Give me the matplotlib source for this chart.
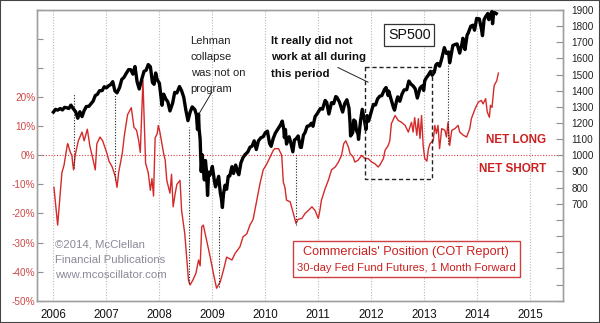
import matplotlib
matplotlib.use("Agg")
import matplotlib.pyplot as plt
from matplotlib.patches import Rectangle

plt.rcParams['font.family'] = ['Liberation Sans', 'DejaVu Sans']

# ---------------- data ----------------
years = [2006, 2007, 2008, 2009, 2010, 2011, 2012, 2013, 2014, 2015]
year_labels = ['2006', '2007', '2008', '2009', '2010', '2011', '2012', '2013', '2014', '2015']

pct_ticks = [-50, -40, -30, -20, -10, 0, 10, 20, 30, 40, 50]
pct_labels = ['-50%', '-40%', '-30%', '-20%', '-10%', '0%', '10%', '20%', '', '', '']

sp_ticks = list(range(100, 2000, 100))
sp_labels = ['', '', '', '', '', '', '700', '800', '900', '1000', '1100', '1200',
             '1300', '1400', '1500', '1600', '1700', '1800', '1900']

# S&P 500 (right axis)
sp_dates = [
    2006.00, 2006.04, 2006.08, 2006.13, 2006.17, 2006.21, 2006.25, 2006.29, 2006.33, 2006.37,
    2006.42, 2006.46, 2006.50, 2006.54, 2006.58, 2006.62, 2006.67, 2006.71, 2006.75, 2006.79,
    2006.83, 2006.87, 2006.92, 2006.96,
    2007.00, 2007.04, 2007.08, 2007.12, 2007.16, 2007.20, 2007.25, 2007.29, 2007.33, 2007.37,
    2007.42, 2007.46, 2007.50, 2007.54, 2007.58, 2007.62, 2007.67, 2007.71, 2007.75, 2007.79,
    2007.83, 2007.87, 2007.90, 2007.93, 2007.96,
    2008.00, 2008.05, 2008.08, 2008.12, 2008.16, 2008.20, 2008.25, 2008.29, 2008.33, 2008.38,
    2008.42, 2008.46, 2008.50, 2008.54, 2008.58, 2008.62, 2008.67, 2008.70, 2008.72, 2008.74,
    2008.75, 2008.77, 2008.79, 2008.81, 2008.83, 2008.85, 2008.87, 2008.89, 2008.91, 2008.93,
    2008.95, 2008.97,
    2009.00, 2009.04, 2009.06, 2009.08, 2009.12, 2009.15, 2009.17, 2009.19, 2009.21, 2009.24,
    2009.27, 2009.30, 2009.33, 2009.37, 2009.40, 2009.44, 2009.48, 2009.50, 2009.54, 2009.58,
    2009.62, 2009.67, 2009.71, 2009.75, 2009.79, 2009.83, 2009.87, 2009.92, 2009.96,
    2010.00, 2010.04, 2010.08, 2010.11, 2010.15, 2010.19, 2010.25, 2010.29, 2010.32, 2010.35,
    2010.36, 2010.38, 2010.40, 2010.42, 2010.45, 2010.48, 2010.52, 2010.55, 2010.58, 2010.62,
    2010.66, 2010.68, 2010.72, 2010.75, 2010.79, 2010.83, 2010.87, 2010.90, 2010.94, 2010.98,
    2011.04, 2011.08, 2011.13, 2011.16, 2011.20, 2011.25, 2011.29, 2011.33, 2011.35, 2011.40,
    2011.46, 2011.50, 2011.54, 2011.58, 2011.60, 2011.61, 2011.65, 2011.67, 2011.70, 2011.72,
    2011.75, 2011.76, 2011.80, 2011.83, 2011.87, 2011.90, 2011.92, 2011.95, 2011.99,
    2012.04, 2012.08, 2012.12, 2012.16, 2012.20, 2012.25, 2012.28, 2012.32, 2012.33, 2012.38,
    2012.42, 2012.44, 2012.48, 2012.50, 2012.54, 2012.58, 2012.62, 2012.67, 2012.71, 2012.75,
    2012.79, 2012.83, 2012.87, 2012.92, 2012.96, 2012.99,
    2013.01, 2013.04, 2013.08, 2013.12, 2013.15, 2013.19, 2013.22, 2013.25, 2013.29, 2013.33,
    2013.38, 2013.42, 2013.46, 2013.48, 2013.50, 2013.54, 2013.58, 2013.62, 2013.65, 2013.67,
    2013.71, 2013.73, 2013.75, 2013.77, 2013.81, 2013.83, 2013.88, 2013.92, 2013.95, 2013.99,
    2014.04, 2014.08, 2014.10, 2014.13, 2014.16, 2014.20, 2014.22, 2014.25, 2014.28, 2014.29,
    2014.31, 2014.33, 2014.36]
sp_values = [
    1268, 1285, 1280, 1290, 1281, 1297, 1295, 1290, 1311, 1291,
    1270, 1230, 1270, 1240, 1277, 1302, 1304, 1320, 1336, 1370,
    1378, 1400, 1401, 1425,
    1418, 1430, 1438, 1456, 1400, 1387, 1421, 1470, 1482, 1505,
    1531, 1530, 1503, 1550, 1455, 1411, 1474, 1520, 1527, 1562,
    1549, 1451, 1440, 1510, 1468,
    1447, 1310, 1379, 1350, 1331, 1275, 1323, 1390, 1386, 1426,
    1400, 1360, 1280, 1215, 1267, 1300, 1283, 1250, 1160, 1255,
    1165, 1100, 900, 1003, 910, 848, 968, 900, 752, 896,
    876, 890,
    931, 840, 805, 826, 870, 770, 735, 677, 760, 815,
    790, 870, 873, 930, 888, 940, 895, 880, 954, 987,
    1005, 1021, 1050, 1057, 1090, 1036, 1090, 1110, 1115,
    1140, 1150, 1074, 1056, 1105, 1138, 1169, 1190, 1212, 1160,
    1110, 1160, 1070, 1089, 1115, 1080, 1022, 1095, 1102, 1120,
    1050, 1049, 1125, 1141, 1180, 1183, 1199, 1180, 1240, 1258,
    1290, 1286, 1340, 1327, 1256, 1326, 1320, 1364, 1360, 1330,
    1268, 1321, 1344, 1292, 1200, 1120, 1140, 1219, 1210, 1155,
    1131, 1099, 1220, 1285, 1220, 1160, 1246, 1212, 1258,
    1315, 1312, 1350, 1366, 1370, 1408, 1420, 1370, 1398, 1340,
    1295, 1280, 1340, 1362, 1335, 1379, 1405, 1407, 1460, 1441,
    1430, 1412, 1355, 1416, 1430, 1402,
    1462, 1480, 1498, 1520, 1496, 1515, 1560, 1569, 1552, 1598,
    1667, 1631, 1640, 1573, 1606, 1680, 1686, 1690, 1655, 1633,
    1687, 1725, 1682, 1655, 1745, 1757, 1800, 1806, 1775, 1848,
    1845, 1783, 1741, 1840, 1859, 1878, 1840, 1872, 1890, 1815,
    1880, 1884, 1878]

# Commercials' net position, % (left axis)
cot_dates = [
    2006.01, 2006.08, 2006.12, 2006.16, 2006.20, 2006.26, 2006.27, 2006.32, 2006.35, 2006.36,
    2006.38, 2006.41, 2006.47, 2006.54, 2006.58, 2006.64, 2006.69, 2006.73, 2006.79, 2006.82,
    2006.88, 2006.93, 2007.01, 2007.05, 2007.11, 2007.17, 2007.20, 2007.22, 2007.23, 2007.30,
    2007.34, 2007.40, 2007.47, 2007.52, 2007.57, 2007.61, 2007.64, 2007.69, 2007.74, 2007.79,
    2007.83, 2007.86, 2007.89, 2007.92, 2007.96, 2007.98, 2008.01, 2008.08, 2008.11, 2008.14,
    2008.20, 2008.23, 2008.26, 2008.30, 2008.33, 2008.39, 2008.42, 2008.48, 2008.52, 2008.55,
    2008.58, 2008.63, 2008.69, 2008.74, 2008.77, 2008.80, 2008.83, 2008.89, 2008.96, 2009.02,
    2009.08, 2009.15, 2009.21, 2009.27, 2009.37, 2009.43, 2009.52, 2009.58, 2009.65, 2009.71,
    2009.77, 2009.84, 2009.90, 2009.96, 2010.03, 2010.09, 2010.15, 2010.18, 2010.25, 2010.31,
    2010.34, 2010.37, 2010.40, 2010.47, 2010.53, 2010.58, 2010.62, 2010.69, 2010.75, 2010.81,
    2010.88, 2010.94, 2011.00, 2011.03, 2011.06, 2011.13, 2011.19, 2011.25, 2011.32, 2011.38,
    2011.44, 2011.48, 2011.52, 2011.57, 2011.60, 2011.66, 2011.69, 2011.75, 2011.82, 2011.88,
    2011.94, 2012.01, 2012.07, 2012.13, 2012.16, 2012.23, 2012.26, 2012.32, 2012.35, 2012.38,
    2012.45, 2012.51, 2012.57, 2012.64, 2012.70, 2012.76, 2012.79, 2012.82, 2012.86, 2012.89,
    2012.92, 2012.95, 2012.98, 2013.01, 2013.05, 2013.08, 2013.11, 2013.14, 2013.17, 2013.20,
    2013.23, 2013.26, 2013.29, 2013.33, 2013.39, 2013.42, 2013.45, 2013.48, 2013.52, 2013.58,
    2013.64, 2013.67, 2013.74, 2013.80, 2013.86, 2013.89, 2013.96, 2014.02, 2014.08, 2014.11,
    2014.16, 2014.19, 2014.23, 2014.25, 2014.28, 2014.32, 2014.37, 2014.40]
cot_values = [
    -11, -24, -15, -6, -3.4, 3.4, 4, 1, 0, -2.3,
    -5, 0, 5, 8, 5, 9, 3, 0, -5, 4,
    6.3, 5, 0.7, -2, -4, -7.4, -11, -8, -6, 0.7,
    7, 14, 16.4, 9.7, 8.6, 5, 1, 25.7, -2.7, -6,
    -12, -8, -14, 6, 7.5, 10.3, 8, 0.7, -1.7, -8.6,
    -13, -6.5, -17.7, -13, -10, -8.6, -19, -27, -36, -43,
    -44.6, -43, -40.6, -36, -38, -24.6, -24, -29, -35, -40.6,
    -45.7, -43.5, -39.5, -35, -36, -33.7, -31.5, -28, -27, -24,
    -22, -15.4, -9.7, -5, -2.9, -0.6, 1.7, 2.3, 2.3, 0,
    -9.2, -11, -15.4, -16, -20, -23.4, -22, -21.7, -20, -19,
    -17.7, -19, -21.7, -19, -15.4, -11.4, -8.6, -5, -4, -2.3,
    0, 4, 5, 2.8, 0.6, -0.6, -2.3, -1.7, 0, -1.1,
    -1.1, -2.3, -2.9, -4, -3.4, -1.1, 1.7, 3.4, 5, 10.9,
    13.7, 12, 11.4, 10.3, 8, 11.4, 8, 13, 6.9, 12.6,
    5.8, 13.7, 3.4, -1.1, -2, 2.3, 4, 4.6, 5, 10.3,
    7.5, 10.3, 2.3, 9.2, 8.6, 6.3, 11.4, 3.4, 8.6, 9.2,
    10.3, 8, 6.9, 6.3, 9.2, 12.6, 16, 18.3, 18.9, 17.7,
    19.5, 14.9, 13.1, 17.2, 16.5, 24, 25.7, 28.3]

# dotted signal lines: (date, S&P-scale top, S&P-scale bottom)
signal_dates = [2006.38, 2007.17, 2008.56, 2009.12, 2010.58, 2013.45]
signal_top = [1389, 1371, 1175, 629, 1012, 1567]
signal_bottom = [920, 846, 208, 186, 567, 1072]

# dashed highlight box
box_x = [2011.88, 2013.15]
box_y = [852, 1546]

# ---------------- figure ----------------
fig = plt.figure(figsize=(6.0, 3.23), dpi=100)
fig.patch.set_facecolor('white')
ax = fig.add_axes([37 / 600, 1 - 300.7 / 323, (563 - 37) / 600, (300.7 - 10) / 323])
ax2 = ax.twinx()
ax2.patch.set_visible(False)

xmin, xmax = 2005.69, 2015.62
ax.set_xlim(xmin, xmax)
ax2.set_xlim(xmin, xmax)
ax.set_ylim(-50, 50)
ax2.set_ylim(100, 1900)

red = '#d42a2a'
grid_c = '#b8b8b8'

for y in years:
    ax.axvline(y, color=grid_c, lw=0.8, ls=(0, (1, 1.5)), zorder=0)
ax.axhline(0, color='#d84040', lw=0.8, ls=(0, (1, 1.5)), zorder=1)

ax.plot(cot_dates, cot_values, color=red, lw=1.0, zorder=3)
ax2.plot(sp_dates, sp_values, color='black', lw=2.4, zorder=4)

ax2.vlines(signal_dates, signal_bottom, signal_top, colors='#222222', lw=0.8,
           linestyles=[(0, (1, 1.5))], zorder=2)

ax2.plot([box_x[0], box_x[1], box_x[1], box_x[0], box_x[0]],
         [box_y[1], box_y[1], box_y[0], box_y[0], box_y[1]],
         color='#222222', lw=1.0, ls=(0, (3, 2)), zorder=5)

# ticks
ax.set_xticks(years)
ax.set_xticklabels(year_labels, fontsize=8.3, color='#111111')
ax.tick_params(axis='x', length=0, pad=6)
ax.set_yticks(pct_ticks)
ax.set_yticklabels(pct_labels, fontsize=7.2, color='#d04848')
ax.tick_params(axis='y', direction='in', length=4.5, width=0.8, color='#909090', pad=1)
ax2.set_yticks(sp_ticks)
ax2.set_yticklabels(sp_labels, fontsize=7.2, color='#222222')
ax2.tick_params(axis='y', direction='in', length=4.8, width=0.8, color='#909090', pad=6)

for a in (ax, ax2):
    for s in a.spines.values():
        s.set_color('#a0a0a0')
        s.set_linewidth(1.0)

# annotations
ax2.text(2008.59, 1742, "Lehman\ncollapse\nwas not on\nprogram", fontsize=8.1,
         color='#222222', ha='left', va='top', linespacing=1.75, zorder=6)
ax2.plot([2008.99, 2008.75], [1391, 1258], color='#222222', lw=0.7, zorder=6)

ax2.text(2010.11, 1740, "It really did not\nwork at all during\nthis period", fontsize=8.2,
         fontweight='bold', color='#111111', ha='left', va='top', linespacing=1.8, zorder=6)
ax2.plot([2011.37, 2011.94], [1544, 1453], color='#222222', lw=0.7, zorder=6)

ax2.text(2012.72, 1745, "SP500", fontsize=10.3, color='#111111', ha='center', va='center',
         zorder=6, bbox=dict(boxstyle='square,pad=0.25', fc='white', ec='#333333', lw=0.9))

ax2.text(2015.30, 1093, "NET LONG", fontsize=8.4, fontweight='bold', color='#cc2020',
         ha='right', va='center', zorder=6)
ax2.text(2015.30, 913, "NET SHORT", fontsize=8.4, fontweight='bold', color='#cc2020',
         ha='right', va='center', zorder=6)

ax2.add_patch(Rectangle((2010.53, 248), 4.28, 221, fill=True, fc='white', ec='#d04040',
                        lw=1.0, zorder=6))
ax2.text(2012.66, 402, "Commercials' Position (COT Report)", fontsize=9.2, color='#cc2020',
         ha='center', va='center', zorder=7)
ax2.text(2012.66, 300, "30-day Fed Fund Futures, 1 Month Forward", fontsize=8.1,
         color='#cc2020', ha='center', va='center', zorder=7)

ax2.text(2006.03, 478, "©2014, McClellan\nFinancial Publications\nwww.mcoscillator.com",
         fontsize=8.2, color='#8a8a98', ha='left', va='top', linespacing=1.62, zorder=6)

fig.patches.append(Rectangle((0, 0), 1, 1, transform=fig.transFigure, fill=False,
                             ec='#444444', lw=1.5))

fig.savefig('out.png', dpi=100, facecolor='white')
